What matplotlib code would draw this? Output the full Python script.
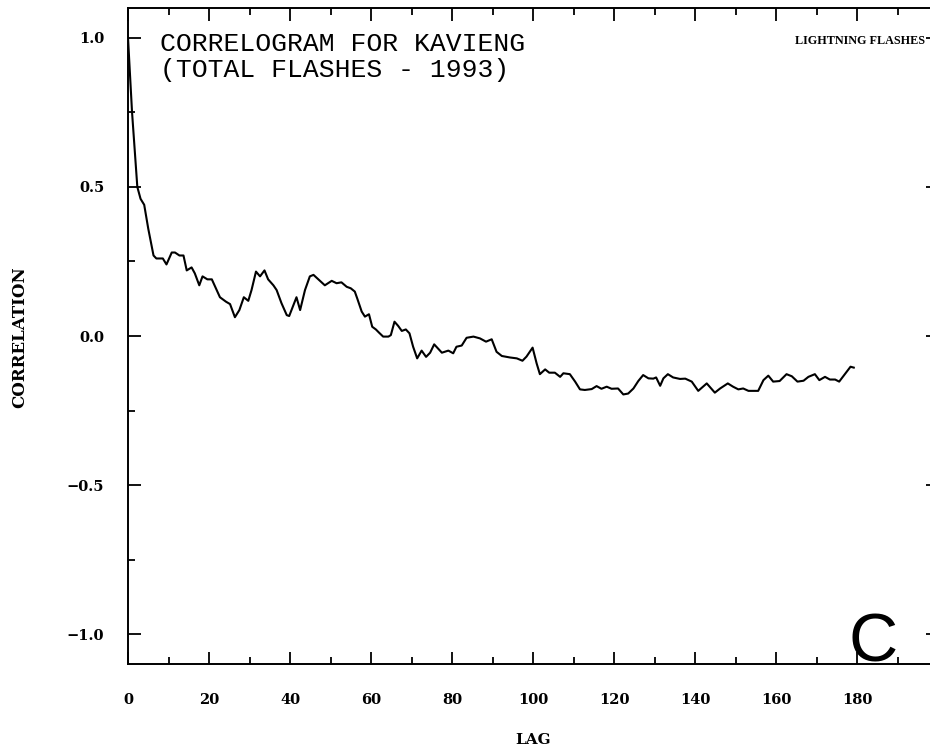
import matplotlib
matplotlib.use("Agg")
import matplotlib.pyplot as plt
from matplotlib.ticker import MultipleLocator

# Autocorrelation of daily lightning flash totals, Kavieng 1993
lag = [0, 1, 2.3, 3.1, 4, 5, 6.3, 7, 8.6, 9.5, 10.8, 11.6, 12.7, 13.7, 14.5,
       15.7, 16.5, 17.6, 18.4, 19.6, 20.7, 22.7, 24.2, 25.2, 26.4, 27.5, 28.6,
       29.7, 30.5, 31.6, 32.6, 33.7, 34.6, 35.9, 36.7, 37.9, 39.2, 39.8, 41.6,
       42.5, 43.7, 44.9, 45.8, 47, 48.6, 50.3, 51.5, 52.7, 54, 55, 56, 56.6,
       57.7, 58.5, 59.5, 60.3, 61.2, 62, 63, 64.3, 64.9, 65.8, 66.7, 67.6,
       68.6, 69.5, 70.4, 71.4, 72.5, 73.6, 74.6, 75.6, 77.5, 79.1, 80.3, 81.1,
       82.4, 83.6, 85.3, 86.9, 88.4, 89.8, 91, 92.3, 94.3, 96, 97.4, 98.4,
       99.9, 100.9, 101.7, 103, 104, 105.4, 106.7, 107.5, 109.1, 110.4, 111.6,
       112.8, 114.5, 115.7, 116.9, 118.2, 119.4, 121, 122.3, 123.5, 124.8, 126,
       127.2, 128.5, 129.7, 130.4, 131.4, 132.2, 133.3, 134.6, 136.3, 137.6,
       139.2, 140.8, 142.9, 144.9, 146.2, 148.1, 149.4, 150.7, 151.9, 153.2,
       155.6, 156.9, 158.1, 159.3, 160.9, 162.6, 163.9, 165.3, 166.8, 168,
       169.6, 170.7, 172.1, 173.3, 174.6, 175.6, 177, 178.4, 179.2]
corr = [1.0, 0.75, 0.50, 0.46, 0.44, 0.36, 0.27, 0.26, 0.26, 0.24, 0.28, 0.28,
        0.27, 0.27, 0.22, 0.23, 0.21, 0.17, 0.20, 0.19, 0.19, 0.13, 0.115,
        0.107, 0.063, 0.087, 0.13, 0.118, 0.154, 0.216, 0.20, 0.22, 0.19,
        0.17, 0.154, 0.11, 0.07, 0.067, 0.13, 0.087, 0.154, 0.20, 0.205, 0.19,
        0.17, 0.185, 0.177, 0.18, 0.165, 0.16, 0.149, 0.126, 0.082, 0.065,
        0.073, 0.031, 0.022, 0.011, -0.002, -0.002, 0.003, 0.048, 0.034, 0.017,
        0.022, 0.009, -0.036, -0.075, -0.049, -0.070, -0.056, -0.028, -0.056,
        -0.049, -0.058, -0.036, -0.032, -0.006, -0.002, -0.008, -0.019, -0.011,
        -0.053, -0.067, -0.072, -0.075, -0.083, -0.069, -0.039, -0.092, -0.128,
        -0.112, -0.123, -0.123, -0.137, -0.125, -0.128, -0.153, -0.179, -0.181,
        -0.178, -0.168, -0.177, -0.170, -0.177, -0.176, -0.196, -0.193, -0.176,
        -0.151, -0.131, -0.142, -0.143, -0.139, -0.167, -0.142, -0.128, -0.139,
        -0.144, -0.143, -0.153, -0.184, -0.159, -0.190, -0.176, -0.159, -0.170,
        -0.179, -0.176, -0.184, -0.184, -0.148, -0.133, -0.153, -0.151, -0.128,
        -0.135, -0.153, -0.150, -0.137, -0.128, -0.148, -0.137, -0.146, -0.146,
        -0.153, -0.128, -0.103, -0.106]

x_ticks = [0, 20, 40, 60, 80, 100, 120, 140, 160, 180]
y_ticks = [-1.0, -0.5, 0.0, 0.5, 1.0]

W, H = 930, 756
fig = plt.figure(figsize=(W / 100, H / 100), dpi=100)
ax = fig.add_axes([128 / W, (H - 664) / H, 810 / W, 656 / H])

ax.plot(lag, corr, color="black", lw=1.5, solid_joinstyle="round")

ax.set_xlim(0, 200)
ax.set_ylim(-1.1, 1.1)
ax.set_xticks(x_ticks)
ax.set_xticklabels([str(v) for v in x_ticks])
ax.set_yticks(y_ticks)
ax.set_yticklabels(["\u22121.0", "\u22120.5", "0.0", "0.5", "1.0"])
ax.xaxis.set_minor_locator(MultipleLocator(10))
ax.yaxis.set_minor_locator(MultipleLocator(0.25))

for s in ax.spines.values():
    s.set_linewidth(1.4)

ax.tick_params(which="both", direction="in", top=True, right=True, width=1.3)
ax.tick_params(which="major", length=9)
ax.tick_params(which="minor", length=5)
ax.tick_params(axis="x", which="major", pad=21)
ax.tick_params(axis="y", which="major", pad=17)
for lab in ax.get_xticklabels() + ax.get_yticklabels():
    lab.set_fontfamily("DejaVu Serif")
    lab.set_fontweight("bold")
    lab.set_fontsize(10.5)

ax.text(8, 0.935, "CORRELOGRAM FOR KAVIENG\n(TOTAL FLASHES - 1993)",
        family="Liberation Mono", size=19, va="center", ha="left",
        linespacing=1.12)
ax.text(196.8, 0.99, "LIGHTNING FLASHES", family="Liberation Serif",
        weight="bold", size=8.7, ha="right", va="center")
ax.text(178.0, -1.093, "C", family="Liberation Sans", size=49,
        ha="left", va="baseline")

fig.text(533 / W, 1 - 740 / H, "LAG", family="DejaVu Serif", weight="bold",
         size=11, ha="center", va="center")
fig.text(20 / W, 1 - 337 / H, "CORRELATION", family="DejaVu Serif",
         weight="bold", size=12, ha="center", va="center", rotation=90)

fig.savefig("out.png", dpi=100)
